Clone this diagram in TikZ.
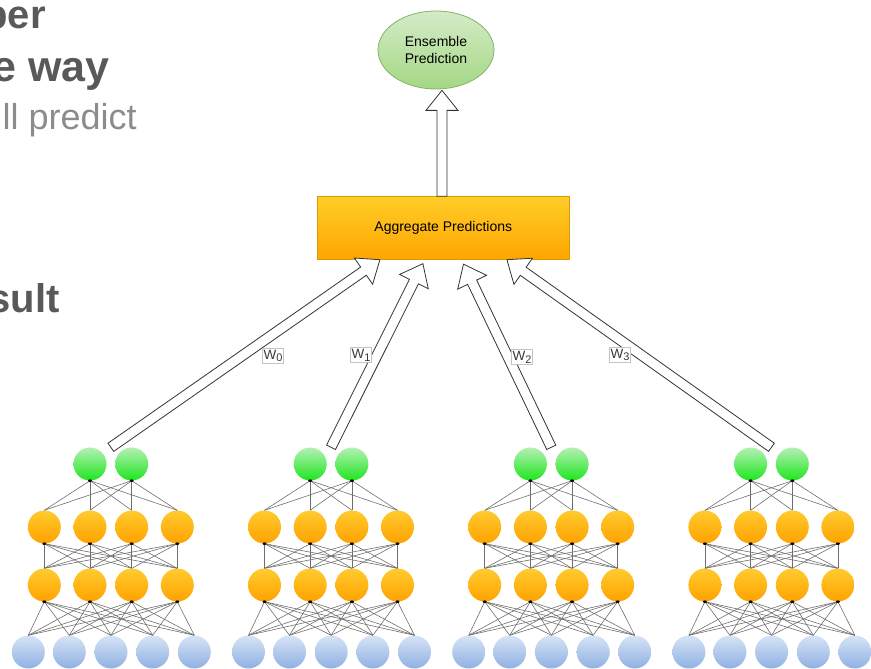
\documentclass[tikz,border=0pt]{standalone}
\usepackage{fontspec}
\setmainfont{Liberation Sans}
\usetikzlibrary{calc,shapes.geometric}

\definecolor{grntop}{HTML}{B4F0B4}
\definecolor{grnbot}{HTML}{1EE61E}
\definecolor{orgtop}{HTML}{FFCB2E}
\definecolor{orgbot}{HTML}{FFA200}
\definecolor{blutop}{HTML}{D6E3F6}
\definecolor{blubot}{HTML}{8FB1E3}
\definecolor{edgegray}{HTML}{6E6E6E}
\definecolor{arrowgray}{HTML}{333333}
\definecolor{lblborder}{HTML}{C4C4C4}
\definecolor{lbltext}{HTML}{3A3A3A}
\definecolor{enstop}{HTML}{D5EBC8}
\definecolor{ensbot}{HTML}{A3D883}
\definecolor{ensline}{HTML}{82B366}
\definecolor{aggtop}{HTML}{FFCD28}
\definecolor{aggbot}{HTML}{FFA500}
\definecolor{aggline}{HTML}{D79B00}
\definecolor{slidedark}{HTML}{595959}
\definecolor{slidelight}{HTML}{8C8C8C}

% hollow block arrow from #1 (tail) to #2 (tip)
\newcommand{\hollowarrow}[2]{%
  \coordinate (hb) at ($(#2)!20pt!(#1)$);
  \path[blockarrow]
    ($(#1)!5pt!90:(#2)$) -- ($(hb)!5pt!90:(#2)$) -- ($(hb)!16pt!90:(#2)$)
    -- (#2)
    -- ($(hb)!16pt!-90:(#2)$) -- ($(hb)!5pt!-90:(#2)$) -- ($(#1)!5pt!-90:(#2)$)
    -- cycle;%
}
% weight label text with a lowered index
\newcommand{\wsub}[1]{W\raisebox{-2.8pt}{\fontsize{11}{11}\selectfont #1}}

\begin{document}
\begin{tikzpicture}[x=1pt,y=-1pt,
  neuron/.style={circle, minimum size=33pt, inner sep=0pt},
  outn/.style={neuron, top color=grntop, bottom color=grnbot},
  hidn/.style={neuron, top color=orgtop, bottom color=orgbot},
  inn/.style={neuron, top color=blutop, bottom color=blubot},
  synapse/.style={draw=edgegray, line width=0.6pt},
  blockarrow/.style={draw=arrowgray, fill=white, line width=0.8pt, line join=miter},
  wlabel/.style={draw=lblborder, fill=white, inner xsep=1.2pt, inner ysep=1.6pt,
    line width=0.6pt, font=\fontsize{13.5}{15}\selectfont, text=lbltext},
  slidebold/.style={anchor=base east, inner sep=0pt, text=slidedark,
    font=\bfseries\fontsize{40}{40}\selectfont},
  slidereg/.style={anchor=base east, inner sep=0pt, text=slidelight,
    font=\fontsize{36}{36}\selectfont},
]
\useasboundingbox (0,0) rectangle (871,669);

% slide text running in from the left edge
\begin{scope}
  \clip (0,0) rectangle (871,669);
  \node[slidebold] (s1) at (46,28.5) {ber};
  \node[slidebold, font=\bfseries\fontsize{43}{43}\selectfont] (s2) at (110,81.7) {e way};
  \node[slidereg]  (s3) at (137,129) {ll predict};
  \node[slidebold] (s4) at (60,312) {sult};
\end{scope}

% four small networks
\foreach \k in {0,1,2,3} {
  \pgfmathsetmacro{\dx}{220.2*\k}
  \foreach \x [count=\i] in {90,131.7}
    \node[outn] (g\k-\i) at (\x+\dx,464) {};
  \foreach \x [count=\i] in {44.3,90,131.7,177.3} {
    \node[hidn] (a\k-\i) at (\x+\dx,527) {};
    \node[hidn] (b\k-\i) at (\x+\dx,585) {};
  }
  \foreach \x [count=\i] in {28.3,69.3,111,152.7,194.3}
    \node[inn] (c\k-\i) at (\x+\dx,652) {};
  \foreach \i in {1,2}
    \foreach \j in {1,...,4}
      \draw[synapse] (g\k-\i.south) -- (a\k-\j.north);
  \foreach \i in {1,...,4}
    \foreach \j in {1,...,4}
      \draw[synapse] (a\k-\i.south) -- (b\k-\j.north);
  \foreach \i in {1,...,4}
    \foreach \j in {1,...,5}
      \draw[synapse] (b\k-\i.south) -- (c\k-\j.north);
  \foreach \n in {g\k-1,g\k-2,a\k-1,a\k-2,a\k-3,a\k-4,b\k-1,b\k-2,b\k-3,b\k-4}
    \fill[black] (\n.south) ellipse (2pt and 1.3pt);
  \coordinate (tail\k) at ($(g\k-1.north)!0.5!(g\k-2.north)$);
}

% aggregation and final prediction
\node[ellipse, draw=ensline, line width=0.8pt, top color=enstop, bottom color=ensbot,
  minimum width=116pt, minimum height=78pt, inner sep=0pt, align=center,
  font=\fontsize{14}{17}\selectfont] (ens) at (436,50) {Ensemble\\Prediction};
\node[rectangle, draw=aggline, line width=0.8pt, top color=aggtop, bottom color=aggbot,
  minimum width=252pt, minimum height=62.6pt, inner sep=0pt,
  font=\fontsize{14}{17}\selectfont] (agg) at (443.3,228) {Aggregate Predictions};

\coordinate (tip0) at ($(agg.south)+(-63.4,0)$);
\coordinate (tip1) at ($(agg.south)+(-20.4,4)$);
\coordinate (tip2) at ($(agg.south)+(20.2,4.5)$);
\coordinate (tip3) at ($(agg.south)+(63.6,0)$);
\coordinate (up0) at ($(agg.north)+(-1.3,0)$);
\coordinate (up1) at ($(ens.south)+(6,1)$);

\foreach \k in {0,1,2,3} {
  \hollowarrow{tail\k}{tip\k}
}
\hollowarrow{up0}{up1}

% weights
\node[wlabel] (w0) at (273,356) {\wsub{0}};
\node[wlabel] (w1) at (361,355) {\wsub{1}};
\node[wlabel] (w2) at (522,357) {\wsub{2}};
\node[wlabel] (w3) at (620,355) {\wsub{3}};
\end{tikzpicture}
\end{document}
